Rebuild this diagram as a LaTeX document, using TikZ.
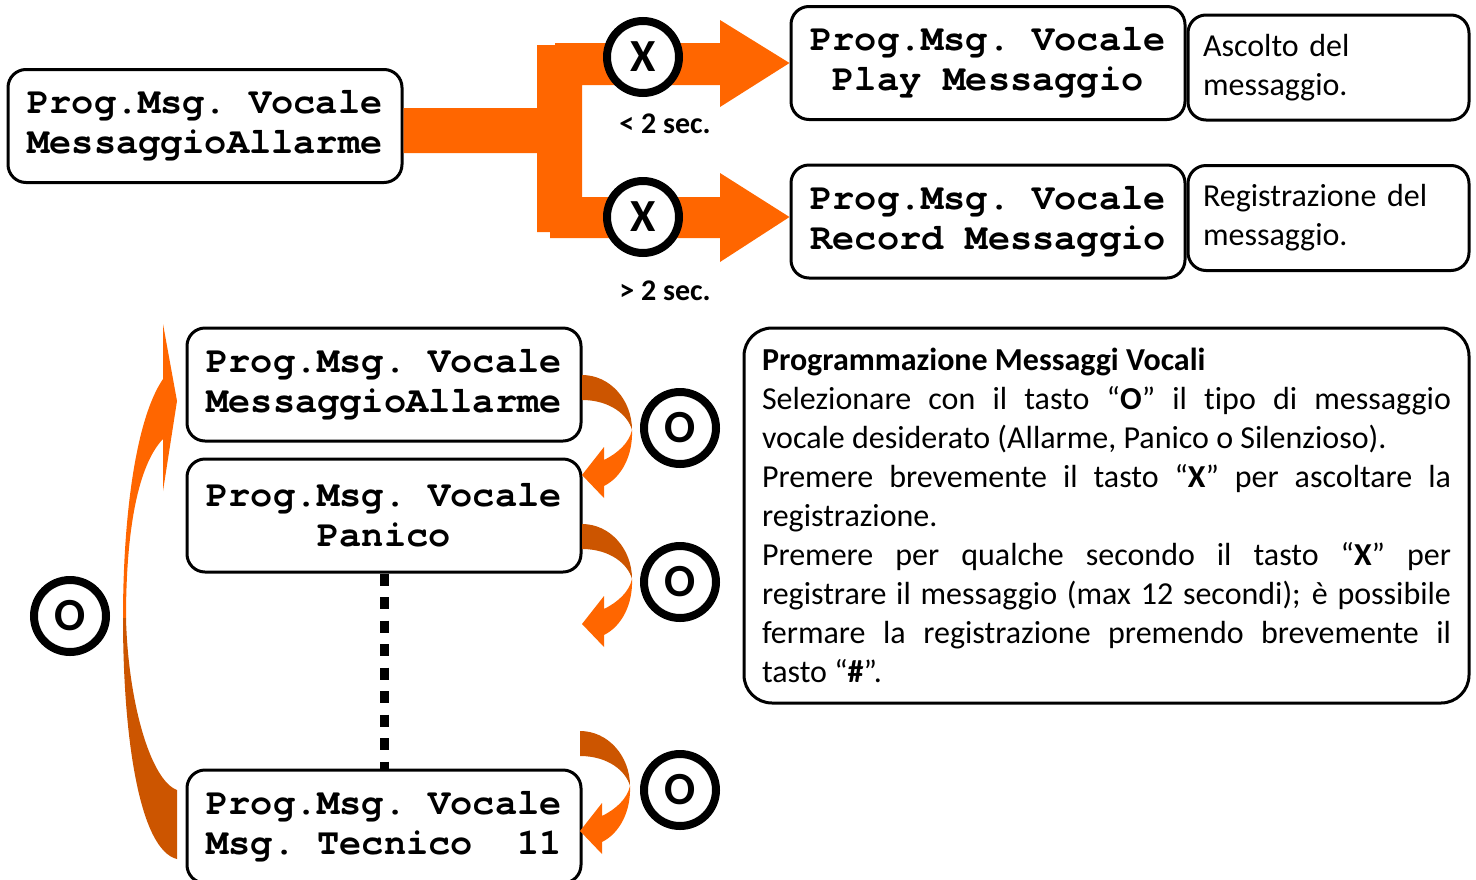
\documentclass[tikz,border=0pt]{standalone}
\usepackage{fontspec}
\setmainfont{Carlito}[Ligatures=NoCommon]
\newfontfamily\lcdfont{TeX Gyre Cursor}
\usetikzlibrary{positioning,calc}
\definecolor{orng}{HTML}{FF6600}
\definecolor{dkorng}{HTML}{CC5500}
\tolerance=10000
\hyphenpenalty=10000

\tikzset{
 lcdbox/.style={draw,line width=3pt,rounded corners=18pt,minimum width=394pt,minimum height=113pt,
  align=center,inner sep=0pt,font=\lcdfont\bfseries\fontsize{37}{40}\selectfont\frenchspacing},
 notebox/.style={draw,line width=3pt,rounded corners=18pt,minimum height=105pt,text width=251pt,
  inner xsep=15pt,align=left,font=\fontsize{32}{39}\selectfont},
 keycirc/.style={circle,draw,line width=8pt,fill=white,minimum size=72pt,inner sep=0pt,
  font=\bfseries\fontsize{46}{46}\selectfont},
 timelbl/.style={font=\bfseries\fontsize{30}{30}\selectfont},
 dotline/.style={line width=9pt,dash pattern=on 12pt off 11.5pt},
 turnarrow/.pic={
  \fill[dkorng] (0,0) .. controls (28,0) and (50,25) .. (50,55)
   .. controls (46,40) and (28,25) .. (0,25) -- cycle;
  \fill[orng] (50,55) .. controls (51,80) and (40,102) .. (22,111) -- (22,123) -- (0,100)
   -- (22,72) -- (22,85) .. controls (36,78) and (47,68) .. (50,55) -- cycle;
 }
}

\begin{document}
\begin{tikzpicture}[x=1pt,y=-1pt]
\useasboundingbox (0,0) rectangle (1476,879);

% top: short / long press on X
\node[lcdbox] (allarme) at (205,126) {Prog.Msg. Vocale\\MessaggioAllarme};
\node[lcdbox] (play) at (988,63) {Prog.Msg. Vocale\\Play Messaggio};
\node[lcdbox] (record) at (988,221.5) {Prog.Msg. Vocale\\Record Messaggio};
\node[notebox] (ascolto) at (1328.5,67.5) {Ascolto del\\messaggio.};
\node[notebox] (registra) at (1328.5,218) {Registrazione del\\messaggio.};

\fill[orng] (allarme.east |- 0,108) -- (537,108) -- (537,45) -- (555,45) -- (555,43) -- (720,43)
 -- (720,20) -- (play.west) -- (720,107) -- (720,85) -- (582,85) -- (582,197) -- (720,197)
 -- (720,173) -- (record.west |- 0,217) -- (720,262) -- (720,238) -- (550,238) -- (550,232)
 -- (537,232) -- (537,153) -- (allarme.east |- 0,153) -- cycle;

\node[keycirc] (xshort) at (643,57) {X};
\node[keycirc] (xlong) at (643,217) {X};
\node[timelbl] (tshort) at (665,124) {< 2 sec.};
\node[timelbl] (tlong) at (665,291) {> 2 sec.};

% bottom: scrolling with O
\node[lcdbox] (ma2) at (384,384.5) {Prog.Msg. Vocale\\MessaggioAllarme};
\node[lcdbox,below=15pt of ma2] (panico) {Prog.Msg. Vocale\\Panico};
\node[lcdbox] (tecnico) at (384,826.5) {Prog.Msg. Vocale\\Msg.~Tecnico~~11};
\draw[dotline] (panico.south) -- (tecnico.north);

\pic at (582,375) {turnarrow};
\pic at (582,524) {turnarrow};
\pic at (580,731) {turnarrow};
\node[keycirc] (onext1) at (680,428) {O};
\node[keycirc] (onext2) at (680,582) {O};
\node[keycirc] (onext3) at (680,790) {O};

% loop back to the first message
\fill[orng] (163,379) .. controls (135,420) and (123,520) .. (123,618) -- (126,618)
 .. controls (126,530) and (138,465) .. (163,439) -- (163,491) -- (177,401) -- (163,324) -- cycle;
\fill[dkorng] (123,618) .. controls (123,740) and (140,850) .. (177,859) -- (177,790)
 .. controls (150,780) and (128,700) .. (126,618) -- cycle;
\node[keycirc] (oloop) at (70,616) {O};

\node[draw,line width=3pt,rounded corners=28pt,text width=689pt,inner xsep=18pt,minimum height=375pt,
 align=justify,font=\fontsize{32}{39}\selectfont] (descr) at (1106.5,515.5)
 {{\bfseries Programmazione Messaggi Vocali}\\
 Selezionare con il tasto “\textbf{O}” il tipo di messaggio\linebreak
 vocale desiderato (Allarme, Panico o Silenzioso).\\
 Premere brevemente il tasto “\textbf{X}” per ascoltare la\linebreak
 registrazione.\\
 Premere per qualche secondo il tasto “\textbf{X}” per\linebreak
 registrare il messaggio (max 12 secondi); è possibile\linebreak
 fermare la registrazione premendo brevemente il\linebreak
 tasto “\textbf{\#}”.};
\end{tikzpicture}
\end{document}
